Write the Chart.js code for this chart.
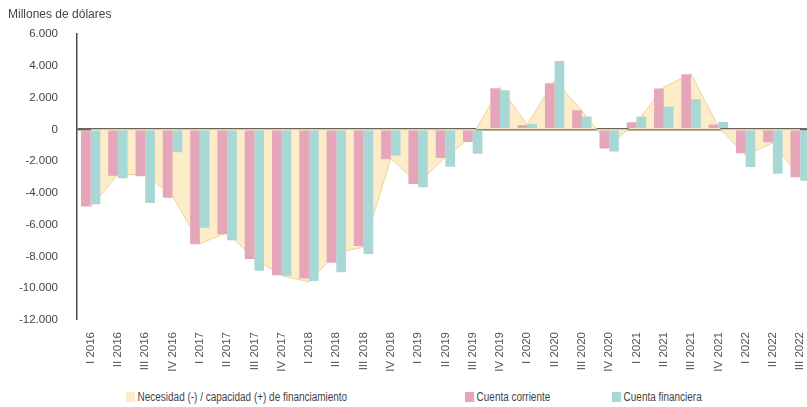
<!DOCTYPE html>
<html>
<head>
<meta charset="utf-8">
<script src="https://cdn.jsdelivr.net/npm/chart.js@4.4.1/dist/chart.umd.min.js"></script>
<style>
  html, body { margin: 0; padding: 0; overflow: hidden; background: #fff; }
  #wrap { position: absolute; left: 0; top: 0; width: 818px; height: 380px; }
  .legend { position: absolute; top: 390px; font: 12px 'Liberation Sans', Arial, sans-serif; color: #444; white-space: nowrap; transform: scaleX(0.83); transform-origin: 0 0; }
  .legend span { display: inline-block; width: 11px; height: 10px; margin-right: 3px; vertical-align: -1px; }
</style>
</head>
<body>
<div id="wrap"><canvas id="myChart" width="818" height="380"></canvas></div>
<div class="legend" style="left:126px"><span style="background:#fdecc8"></span>Necesidad (-) / capacidad (+) de financiamiento</div>
<div class="legend" style="left:465px"><span style="background:#e6a6ba"></span>Cuenta corriente</div>
<div class="legend" style="left:612px"><span style="background:#a7d8d5"></span>Cuenta financiera</div>
<script>
var quarters = ['I 2016', 'II 2016', 'III 2016', 'IV 2016',
    'I 2017', 'II 2017', 'III 2017', 'IV 2017',
    'I 2018', 'II 2018', 'III 2018', 'IV 2018',
    'I 2019', 'II 2019', 'III 2019', 'IV 2019',
    'I 2020', 'II 2020', 'III 2020', 'IV 2020',
    'I 2021', 'II 2021', 'III 2021', 'IV 2021',
    'I 2022', 'II 2022', 'III 2022'];

// millones de dolares
var necesidad = [-4900, -2850, -2850, -4200, -7200, -6500, -8150, -9200,
    -9600, -7800, -7400, -1850, -3400, -1750, -400, 2650,
    300, 3100, 1170, -1000, 430, 2650, 3500, 150,
    -1650, -850, -3050];
var cuentaCorriente = [-4850, -2920, -2960, -4300, -7230, -6600, -8160, -9180,
    -9390, -8400, -7340, -1890, -3440, -1800, -800, 2580,
    270, 2900, 1200, -1200, 440, 2570, 3460, 300,
    -1500, -820, -3020];
var cuentaFinanciera = [-4720, -3080, -4630, -1450, -6200, -6980, -8900, -9220,
    -9540, -9000, -7840, -1640, -3650, -2350, -1530, 2460,
    330, 4300, 800, -1400, 800, 1430, 1890, 460,
    -2370, -2800, -3230];

var yTicks = { min: -12000, max: 6000, step: 2000 };

var fontFam = "'Liberation Sans', Arial, sans-serif";

function miles(v) {
    var s = Math.abs(v).toString().replace(/\B(?=(\d{3})+(?!\d))/g, '.');
    return (v < 0 ? '-' : '') + s;
}

var ctx = document.getElementById('myChart').getContext('2d');
var chart = new Chart(ctx, {
    type: 'bar',
    data: {
        labels: quarters,
        datasets: [
            {
                type: 'line',
                label: 'Necesidad (-) / capacidad (+) de financiamiento',
                data: necesidad,
                fill: 'origin',
                backgroundColor: '#fdecc8',
                borderColor: '#f3d190',
                borderWidth: 1,
                pointRadius: 0,
                tension: 0,
                order: 2
            },
            {
                label: 'Cuenta corriente',
                data: cuentaCorriente,
                backgroundColor: '#e6a6ba',
                categoryPercentage: 0.71,
                barPercentage: 1,
                order: 1
            },
            {
                label: 'Cuenta financiera',
                data: cuentaFinanciera,
                backgroundColor: '#a7d8d5',
                categoryPercentage: 0.71,
                barPercentage: 1,
                order: 1
            }
        ]
    },
    options: {
        responsive: false,
        animation: false,
        layout: { padding: { left: 8, right: 0, top: 0, bottom: 0 } },
        plugins: {
            legend: { display: false },
            tooltip: { enabled: false },
            title: {
                display: true,
                text: 'Millones de dólares',
                align: 'start',
                color: '#444',
                font: { family: fontFam, size: 12, weight: 'normal' },
                padding: { top: 7, bottom: 12.6 }
            }
        },
        scales: {
            x: {
                grid: { display: false },
                border: { display: false },
                ticks: {
                    minRotation: 90,
                    maxRotation: 90,
                    padding: 4,
                    color: '#555',
                    font: { family: fontFam, size: 11.5 }
                },
                afterFit: function (scale) { scale.height = 60; }
            },
            y: {
                min: yTicks.min,
                max: yTicks.max,
                z: 1,
                grid: {
                    drawTicks: false,
                    color: function (c) { return c.tick && c.tick.value === 0 ? '#6b665b' : 'rgba(0,0,0,0)'; },
                    lineWidth: function (c) { return c.tick && c.tick.value === 0 ? 2.5 : 0; }
                },
                border: { display: true, color: '#4a4a4a', width: 1.5 },
                ticks: {
                    stepSize: yTicks.step,
                    padding: 19,
                    color: '#444',
                    font: { family: fontFam, size: 11.5 },
                    callback: function (v) { return miles(v); }
                },
                afterFit: function (scale) { scale.width = 69; }
            }
        }
    }
});
</script>
</body>
</html>
